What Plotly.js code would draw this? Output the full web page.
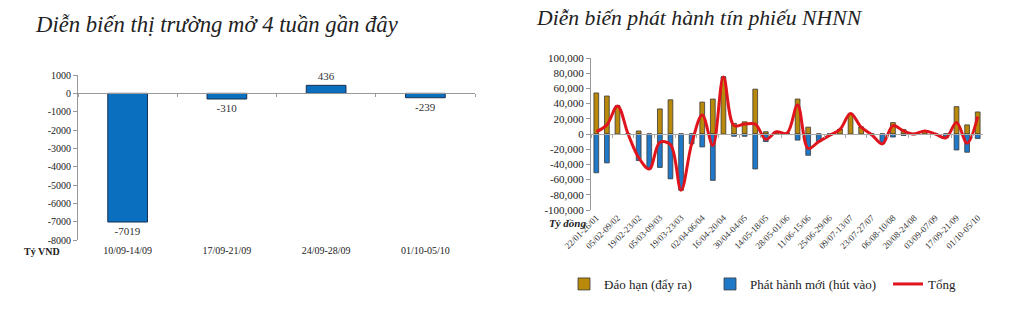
<!DOCTYPE html>
<html>
<head>
<meta charset="utf-8">
<script src="https://cdn.plot.ly/plotly-3.0.1.min.js"></script>
<style>html,body{margin:0;padding:0;background:#fff;}#chart{width:1020px;height:325px;}</style>
</head>
<body>
<div id="chart"></div>
<script>
// ---- Left chart: open market, last 4 weeks (Tỷ VND)
const weeks4 = ['10/09-14/09', '17/09-21/09', '24/09-28/09', '01/10-05/10'];
const omoNet = [-7019, -310, 436, -239];
const omoTickVals = [1000, 0, -1000, -2000, -3000, -4000, -5000, -6000, -7000, -8000];
const omoTickText = ['1000', '0', '-1000', '-2000', '-3000', '-4000', '-5000', '-6000', '-7000', '-8000'];

// ---- Right chart: SBV bill issuance (Tỷ đồng), weekly
const weeks = ['22/01-26/01', '29/01-03/02', '05/02-09/02', '12/02-16/02', '19/02-23/02', '26/02-01/03',
  '05/03-09/03', '12/03-16/03', '19/03-23/03', '26/03-30/03', '02/04-06/04', '09/04-13/04',
  '16/04-20/04', '23/04-27/04', '30/04-04/05', '07/05-11/05', '14/05-18/05', '21/05-25/05',
  '28/05-01/06', '04/06-08/06', '11/06-15/06', '18/06-22/06', '25/06-29/06', '02/07-06/07',
  '09/07-13/07', '16/07-20/07', '23/07-27/07', '30/07-03/08', '06/08-10/08', '13/08-17/08',
  '20/08-24/08', '27/08-31/08', '03/09-07/09', '10/09-14/09', '17/09-21/09', '24/09-28/09', '01/10-05/10'];
const daoHan = [54000, 50000, 37000, 0, 4000, 0, 33000, 45000, 0, 0,
  42000, 46000, 75000, 14000, 16000, 59000, 3000, 3000, 1000, 46000,
  9000, 0, 0, 6000, 27000, 9000, 0, 0, 15000, 6000,
  1000, 4000, 0, 0, 36000, 12000, 29000];
const phatHanh = [-51000, -38000, 0, 0, -35000, -46000, -44000, -59000, -74000, -13000,
  -17000, -61000, 0, -3000, -3000, -46000, -10000, 0, 0, -8000,
  -28000, -10000, -2000, 0, 0, 0, -1000, -13000, -4000, -2000,
  -1000, 0, 0, -5000, -21000, -24000, -6000];
const tong = [3000, 12000, 37000, 0, -31000, -46000, -11000, -14000, -74000, -13000,
  25000, -15000, 75000, 11000, 13000, 13000, -7000, 3000, 1000, 38000,
  -19000, -10000, -2000, 6000, 27000, 9000, -1000, -13000, 11000, 4000,
  0, 4000, 0, -5000, 15000, -12000, 23000];
const billTickVals = [100000, 80000, 60000, 40000, 20000, 0, -20000, -40000, -60000, -80000, -100000];
const billTickText = ['100,000', '80,000', '60,000', '40,000', '20,000', '0', '-20,000', '-40,000', '-60,000', '-80,000', '-100,000'];

const SERIF = 'Liberation Serif, Times New Roman, serif';
const W = 1020, H = 325;
const px = v => v / W, py = v => 1 - v / H;

// plot areas (pixels)
const L = {x0: 78, x1: 475, y0: 75, y1: 240};
const R = {x0: 591, x1: 983, y0: 58, y1: 210};
const lRange = [-8000, 1000];
const rRange = [-100000, 100000];
const zeroPos = (box, rng) => py(box.y1) + (py(box.y0) - py(box.y1)) * (0 - rng[0]) / (rng[1] - rng[0]);

const traces = [
  {type: 'bar', x: weeks4, y: omoNet, xaxis: 'x', yaxis: 'y', width: 0.4,
   marker: {color: '#0b6fc0', line: {color: '#1a2f4f', width: 1}},
   text: omoNet.map(String), textposition: 'outside', cliponaxis: false,
   textfont: {family: SERIF, size: 11, color: '#333'}, showlegend: false},
  {type: 'bar', name: 'Đáo hạn (đẩy ra)', x: weeks, y: daoHan, xaxis: 'x2', yaxis: 'y2', width: 0.45,
   legend: 'legend', marker: {color: '#b8890a', line: {color: '#3a3a3a', width: 0.8}}},
  {type: 'bar', name: 'Phát hành mới (hút vào)', x: weeks, y: phatHanh, xaxis: 'x2', yaxis: 'y2', width: 0.45,
   legend: 'legend2', marker: {color: '#1f78c8', line: {color: '#3a3a3a', width: 0.8}}},
  {type: 'scatter', mode: 'lines', name: 'Tổng', x: weeks, y: tong, xaxis: 'x2', yaxis: 'y2',
   legend: 'legend3', line: {color: '#e0141c', width: 3, shape: 'spline', smoothing: 1}}
];

const legendBase = {orientation: 'h', xanchor: 'left', yanchor: 'middle', y: py(284),
  font: {family: SERIF, size: 13, color: '#222'}, bgcolor: 'rgba(0,0,0,0)', itemwidth: 30};

const layout = {
  width: W, height: H, margin: {l: 0, r: 0, t: 0, b: 0, autoexpand: false},
  paper_bgcolor: '#fff', plot_bgcolor: 'rgba(0,0,0,0)',
  font: {family: SERIF, color: '#222'},
  barmode: 'relative',
  xaxis: {domain: [px(L.x0), px(L.x1)], anchor: 'free', position: zeroPos(L, lRange),
    type: 'category', showline: true, linecolor: '#999', linewidth: 1,
    ticks: 'outside', ticklen: 3, tickcolor: '#999', tickson: 'boundaries',
    ticklabelstandoff: 148, tickfont: {family: SERIF, size: 10, color: '#222'},
    showgrid: false, zeroline: false, automargin: false},
  yaxis: {domain: [py(L.y1), py(L.y0)], anchor: 'x', range: lRange,
    tickmode: 'array', tickvals: omoTickVals, ticktext: omoTickText,
    showline: true, linecolor: '#999', ticks: 'outside', ticklen: 4, tickcolor: '#999',
    tickfont: {family: SERIF, size: 10, color: '#222'}, showgrid: false, zeroline: false, automargin: false},
  xaxis2: {domain: [px(R.x0), px(R.x1)], anchor: 'free', position: zeroPos(R, rRange),
    type: 'category', showline: true, linecolor: '#aaa', linewidth: 1,
    ticks: 'outside', ticklen: 3, tickcolor: '#aaa', tickson: 'boundaries',
    tickmode: 'linear', tick0: 0, dtick: 2, tickangle: -45,
    ticklabelstandoff: 74, tickfont: {family: SERIF, size: 9, color: '#333'},
    showgrid: false, zeroline: false, automargin: false},
  yaxis2: {domain: [py(R.y1), py(R.y0)], anchor: 'x2', range: rRange,
    tickmode: 'array', tickvals: billTickVals, ticktext: billTickText,
    showline: true, linecolor: '#999', ticks: 'outside', ticklen: 4, tickcolor: '#999',
    tickfont: {family: SERIF, size: 11, color: '#222'}, showgrid: false, zeroline: false, automargin: false},
  showlegend: true,
  legend: Object.assign({}, legendBase, {x: px(564)}),
  legend2: Object.assign({}, legendBase, {x: px(710)}),
  legend3: Object.assign({}, legendBase, {x: px(888)}),
  annotations: [
    {text: 'Diễn biến thị trường mở 4 tuần gần đây', xref: 'paper', yref: 'paper',
     x: px(33), y: py(25), xanchor: 'left', yanchor: 'middle', showarrow: false,
     font: {family: SERIF, size: 22.7, color: '#222', style: 'italic'}},
    {text: 'Diễn biến phát hành tín phiếu NHNN', xref: 'paper', yref: 'paper',
     x: px(534), y: py(18), xanchor: 'left', yanchor: 'middle', showarrow: false,
     font: {family: SERIF, size: 21.7, color: '#222', style: 'italic'}},
    {text: '<b>Tỷ VND</b>', xref: 'paper', yref: 'paper',
     x: px(42), y: py(252), xanchor: 'center', yanchor: 'middle', showarrow: false,
     font: {family: SERIF, size: 10, color: '#222'}},
    {text: '<b><i>Tỷ đồng</i></b>', xref: 'paper', yref: 'paper',
     x: px(567), y: py(223), xanchor: 'center', yanchor: 'middle', showarrow: false,
     font: {family: SERIF, size: 11, color: '#222'}}
  ]
};

Plotly.newPlot('chart', traces, layout, {staticPlot: true, displayModeBar: false});
</script>
</body>
</html>
